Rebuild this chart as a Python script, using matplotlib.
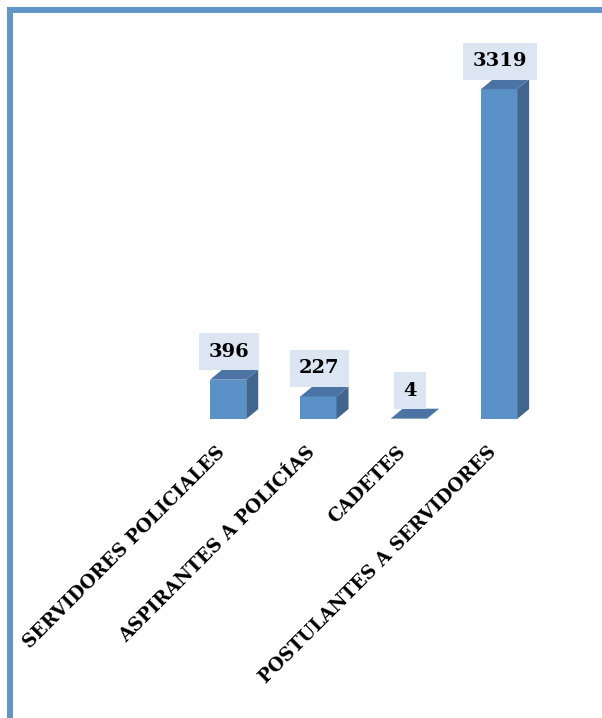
import numpy as np
import matplotlib.pyplot as plt
import matplotlib.transforms as mtransforms
from matplotlib.patches import Polygon
from matplotlib.lines import Line2D

categories = ["SERVIDORES POLICIALES", "ASPIRANTES A POLICÍAS", "CADETES",
              "POSTULANTES A SERVIDORES"]
values = [396, 227, 4, 3319]

front_color = "#5A92C8"
side_color = "#40668F"
top_color = "#4B74A5"
box_color = "#DCE6F2"
frame_color = "#6096C9"

fig = plt.figure(figsize=(6.02, 7.18), dpi=100)
ax = fig.add_axes([0.304, 0.4164, 0.6, 0.526])

width = 0.4
dx = 0.133   # depth offset in x (data units)
dy = 100     # depth offset in y (data units)
x = np.arange(len(values))

ax.bar(x, values, width=width, color=front_color, edgecolor="none", zorder=2)
for xi, v in zip(x, values):
    left, right = xi - width / 2, xi + width / 2
    # right side face
    ax.add_patch(Polygon([(right, 0), (right + dx, dy), (right + dx, v + dy), (right, v)],
                         closed=True, facecolor=side_color, edgecolor="none", zorder=2))
    # top face
    ax.add_patch(Polygon([(left, v), (right, v), (right + dx, v + dy), (left + dx, v + dy)],
                         closed=True, facecolor=top_color, edgecolor="none", zorder=3))
    ax.annotate(str(v), xy=(xi + 0.01, v + dy), xytext=(0, 6.5), textcoords="offset points",
                ha="center", va="bottom", fontsize=14, fontweight="bold",
                family="DejaVu Serif",
                bbox=dict(boxstyle="square,pad=0.48", facecolor=box_color, edgecolor="none"))

ax.set_xlim(-0.5, 3.5)
ax.set_ylim(0, 3800)
ax.set_xticks(x)
ax.set_xticklabels(categories, rotation=45, ha="right", rotation_mode="anchor",
                   fontsize=13.3, fontweight="bold", family="DejaVu Serif")
ax.tick_params(axis="x", length=0, pad=21)
shift = mtransforms.ScaledTranslation(-0.12, 0.05, fig.dpi_scale_trans)
for lab in ax.get_xticklabels():
    lab.set_transform(lab.get_transform() + shift)
ax.set_yticks([])
for s in ax.spines.values():
    s.set_visible(False)

# outer frame (left and top)
fw = 4.3
fig.add_artist(Line2D([10 / 602, 10 / 602], [0, 1 - 10 / 718], transform=fig.transFigure,
                      color=frame_color, lw=fw, solid_joinstyle="round"))
fig.add_artist(Line2D([10 / 602, 1], [1 - 10 / 718, 1 - 10 / 718], transform=fig.transFigure,
                      color=frame_color, lw=fw, solid_capstyle="round"))

fig.savefig("out.png", dpi=100)
